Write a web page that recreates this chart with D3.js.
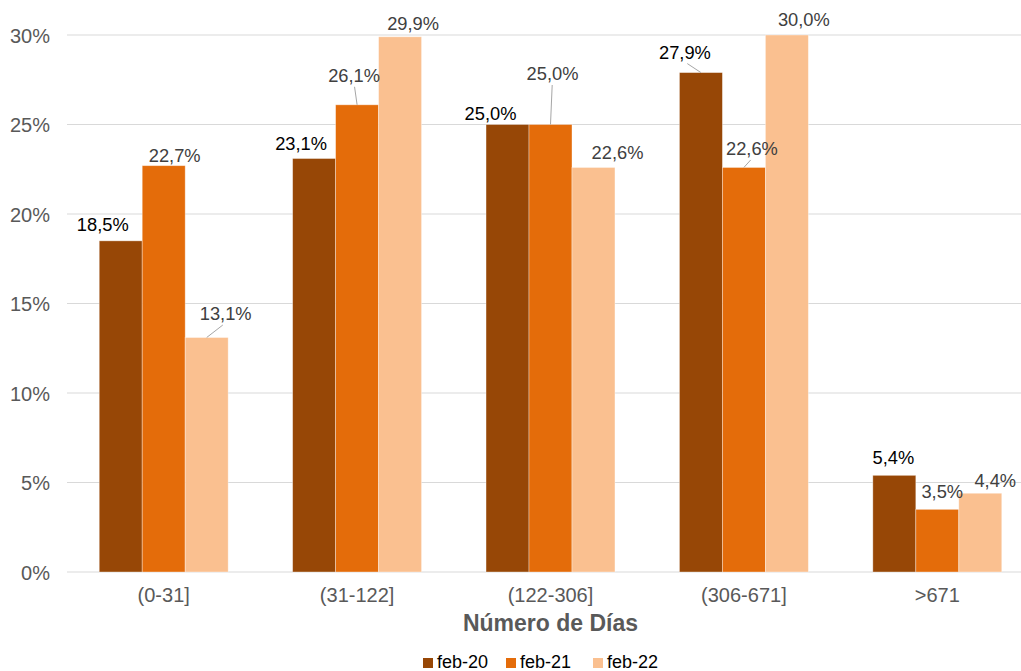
<!DOCTYPE html>
<html>
<head>
<meta charset="utf-8">
<script src="https://cdn.jsdelivr.net/npm/d3@7"></script>
<style>
  html, body { margin: 0; padding: 0; background: #ffffff; }
  svg { display: block; font-family: Arial, "Liberation Sans", sans-serif; }
</style>
</head>
<body>
<svg id="chart" width="1021" height="671"></svg>
<script>
// Share of cases by elapsed days, for three February snapshots
const categories = ["(0-31]", "(31-122]", "(122-306]", "(306-671]", ">671"];
const seriesNames = ["feb-20", "feb-21", "feb-22"];
const feb20 = [18.5, 23.1, 25.0, 27.9, 5.4];
const feb21 = [22.7, 26.1, 25.0, 22.6, 3.5];
const feb22 = [13.1, 29.9, 22.6, 30.0, 4.4];
const yTicks = [0, 5, 10, 15, 20, 25, 30];
const xTitle = "Número de Días";

const colors = ["#974706", "#e46c0a", "#fac090"];
const labelColors = ["#000000", "#404040", "#404040"];

// Hand-placed label offsets (dx, dy from bar top centre) and leader-line flags
const labelOffsets = [
  [[-18, -10], [11, -4], [19, -17.5]],
  [[-13, -9], [-3, -23], [13, -7]],
  [[-17, -4.5], [2, -44.5], [24, -8]],
  [[-16, -14], [8, -12.5], [17, -9]],
  [[-1, -11], [5, -11], [15, -6.5]]
];
const leaders = [
  [false, false, true],
  [false, true, false],
  [false, true, false],
  [true, true, false],
  [false, false, false]
];

const values = [feb20, feb21, feb22];
const fmt = v => v.toFixed(1).replace(".", ",") + "%";

const svg = d3.select("#chart");
const mLeft = 67, mRight = 1034, mTop = 35, mBottom = 572;

const x0 = d3.scaleBand().domain(categories).range([mLeft, mRight]).paddingInner(1 / 3).paddingOuter(1 / 6);
const x1 = d3.scaleBand().domain(seriesNames).range([0, x0.bandwidth()]);
const y = d3.scaleLinear().domain([0, 30]).range([mBottom, mTop]);

// Horizontal gridlines
svg.append("g").selectAll("line").data(yTicks).join("line")
  .attr("x1", mLeft).attr("x2", 1021)
  .attr("y1", d => y(d)).attr("y2", d => y(d))
  .attr("stroke", "#d9d9d9").attr("stroke-width", 1.2);

// Y axis tick labels
svg.append("g").selectAll("text").data(yTicks).join("text")
  .attr("x", 50).attr("y", d => y(d) + 7.5)
  .attr("text-anchor", "end")
  .attr("font-size", 20).attr("fill", "#595959")
  .text(d => d + "%");

// Bars
const cells = [];
categories.forEach((c, gi) => {
  seriesNames.forEach((s, si) => {
    cells.push({ c, gi, s, si, v: values[si][gi] });
  });
});

svg.append("g").selectAll("rect").data(cells).join("rect")
  .attr("x", d => x0(d.c) + x1(d.s))
  .attr("y", d => y(d.v))
  .attr("width", x1.bandwidth())
  .attr("height", d => y(0) - y(d.v))
  .attr("fill", d => colors[d.si])
  .attr("stroke", "#ffffff").attr("stroke-opacity", 0.45).attr("stroke-width", 0.8);

// Data labels with optional leader lines
const lbl = svg.append("g");
cells.forEach(d => {
  const cx = x0(d.c) + x1(d.s) + x1.bandwidth() / 2;
  const ty = y(d.v);
  const [dx, dy] = labelOffsets[d.gi][d.si];
  const tx = cx + dx, tb = ty + dy;
  if (leaders[d.gi][d.si]) {
    lbl.append("line")
      .attr("x1", cx).attr("y1", ty)
      .attr("x2", tx - dx * 0.15).attr("y2", tb + 5)
      .attr("stroke", "#a6a6a6").attr("stroke-width", 1);
  }
  lbl.append("text")
    .attr("x", tx).attr("y", tb)
    .attr("text-anchor", "middle")
    .attr("font-size", 18.3)
    .attr("fill", labelColors[d.si])
    .text(fmt(d.v));
});

// Category labels
svg.append("g").selectAll("text").data(categories).join("text")
  .attr("x", d => x0(d) + x0.bandwidth() / 2)
  .attr("y", 602)
  .attr("text-anchor", "middle")
  .attr("font-size", 20).attr("fill", "#595959")
  .text(d => d);

// Axis title
svg.append("text")
  .attr("x", (mLeft + mRight) / 2).attr("y", 631)
  .attr("text-anchor", "middle")
  .attr("font-size", 23).attr("font-weight", "bold").attr("fill", "#595959")
  .text(xTitle);

// Legend
const legendX = [423, 506, 593];
const lg = svg.append("g").selectAll("g").data(seriesNames).join("g")
  .attr("transform", (d, i) => `translate(${legendX[i]},0)`);
lg.append("rect").attr("x", 0).attr("y", 658).attr("width", 10).attr("height", 10)
  .attr("fill", (d, i) => colors[i]);
lg.append("text").attr("x", 14).attr("y", 668)
  .attr("font-size", 18).attr("fill", "#000000")
  .text(d => d);
</script>
</body>
</html>
